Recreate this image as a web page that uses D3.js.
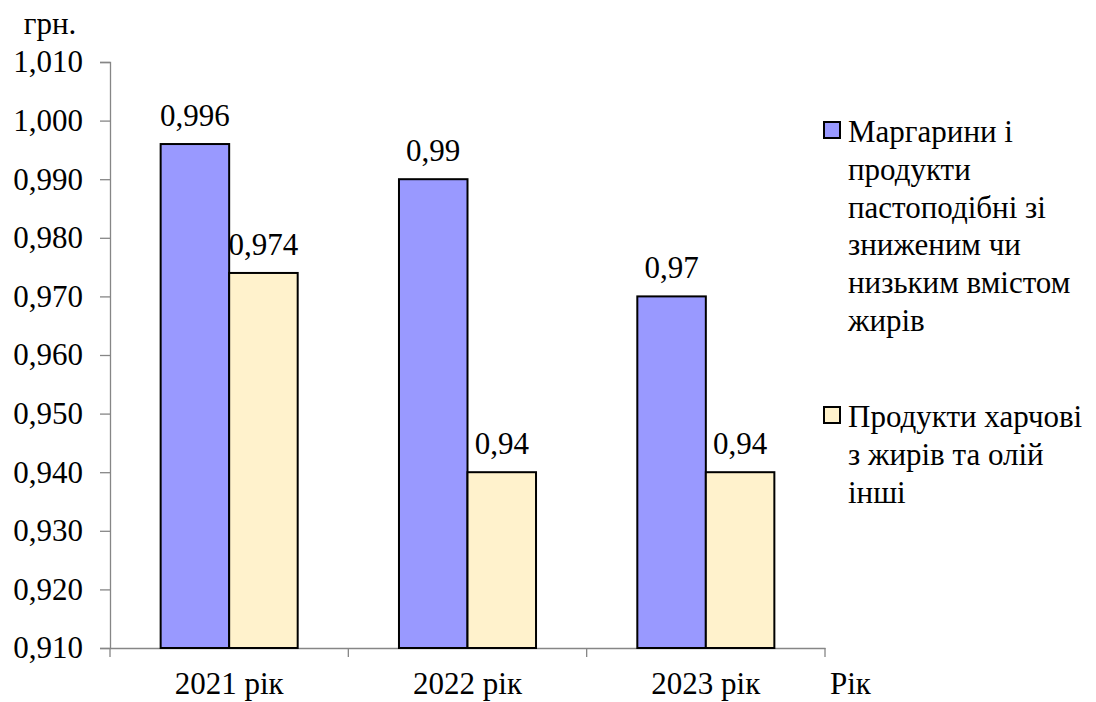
<!DOCTYPE html>
<html>
<head>
<meta charset="utf-8">
<script src="https://cdn.jsdelivr.net/npm/d3@7"></script>
</head>
<body style="margin:0">
<script>
// Average price per unit, UAH
const years = ["2021 рік", "2022 рік", "2023 рік"];
const seriesNames = [
  "Маргарини і продукти пастоподібні зі зниженим чи низьким вмістом жирів",
  "Продукти харчові з жирів та олій інші"
];
const margarineValues = [0.996, 0.99, 0.97];
const otherFatsValues = [0.974, 0.94, 0.94];
const yTicks = [0.91, 0.92, 0.93, 0.94, 0.95, 0.96, 0.97, 0.98, 0.99, 1.00, 1.01];
const legendLines = [
  ["Маргарини і", "продукти", "пастоподібні зі", "зниженим чи", "низьким вмістом", "жирів"],
  ["Продукти харчові", "з жирів та олій", "інші"]
];
const colors = ["#9999FF", "#FFF2CC"];

const fontSize = 31;
const axisColor = "#868686";
const svg = d3.select("body").append("svg")
  .attr("width", 1096).attr("height", 702)
  .attr("class", "price-bars");

// serif face for every label
function useSerif(sel) {
  sel.attr("font-size", fontSize)
    .attr("fill", "#000")
    .attr("font-family", "Liberation Serif")
    .style("font-family", `"Liberation Serif", "Times New Roman"`, "important");
}

const plot = { left: 110, right: 825, top: 62, bottom: 648 };

const y = d3.scaleLinear().domain([0.91, 1.01]).range([plot.bottom, plot.top]);
const x0 = d3.scaleBand().domain(years).range([plot.left, plot.right]).padding(0);
const bw = x0.bandwidth();
const x1 = d3.scaleBand().domain([0, 1]).range([bw * 0.2125, bw * 0.7875]).padding(0);

const rows = years.map((yr, i) => ({ year: yr, vals: [margarineValues[i], otherFatsValues[i]] }));

const fmt = v => String(+v.toFixed(3)).replace(".", ",");
const tickFmt = v => v.toFixed(3).replace(".", ",");

// Y axis
const yAxis = svg.append("g")
  .attr("transform", `translate(${plot.left},0)`)
  .call(d3.axisLeft(y).tickValues(yTicks).tickFormat(tickFmt).tickSize(10).tickPadding(17));
yAxis.attr("font-family", null).attr("font-size", null);
yAxis.select(".domain").attr("stroke", axisColor).attr("stroke-width", 1.3);
yAxis.selectAll(".tick line").attr("stroke", axisColor).attr("stroke-width", 1.3);
yAxis.selectAll(".tick text").call(useSerif);

// X axis line
const xAxis = svg.append("g")
  .attr("transform", `translate(0,${plot.bottom})`)
  .call(d3.axisBottom(x0).tickValues([]).tickSizeOuter(0));
xAxis.attr("font-family", null).attr("font-size", null);
xAxis.select(".domain").attr("stroke", axisColor).attr("stroke-width", 1.3);
// category boundary ticks
svg.append("g").selectAll("line")
  .data(years.concat(["end"]))
  .join("line")
  .attr("x1", (d, i) => i < years.length ? x0(d) : plot.right)
  .attr("x2", (d, i) => i < years.length ? x0(d) : plot.right)
  .attr("y1", plot.bottom).attr("y2", plot.bottom + 9)
  .attr("stroke", axisColor).attr("stroke-width", 1.3);
svg.append("g").selectAll("text")
  .data(years)
  .join("text")
  .attr("x", d => x0(d) + bw / 2)
  .attr("y", 694)
  .attr("text-anchor", "middle")
  .call(useSerif)
  .text(d => d);

// Bars
const groups = svg.append("g").selectAll("g")
  .data(rows)
  .join("g")
  .attr("transform", d => `translate(${x0(d.year)},0)`);

groups.selectAll("rect")
  .data(d => d.vals.map((v, k) => ({ v, k })))
  .join("rect")
  .attr("x", d => x1(d.k))
  .attr("width", x1.bandwidth())
  .attr("y", d => y(d.v))
  .attr("height", d => y(0.91) - y(d.v))
  .attr("fill", d => colors[d.k])
  .attr("stroke", "#000")
  .attr("stroke-width", 2);

groups.selectAll("text")
  .data(d => d.vals.map((v, k) => ({ v, k })))
  .join("text")
  .attr("x", d => x1(d.k) + x1.bandwidth() / 2)
  .attr("y", d => y(d.v) - 18)
  .attr("text-anchor", "middle")
  .call(useSerif)
  .text(d => fmt(d.v));

// Axis titles
svg.append("text").attr("x", 50).attr("y", 34).attr("text-anchor", "middle")
  .call(useSerif).text("грн.");
svg.append("text").attr("x", 830).attr("y", 694)
  .call(useSerif).text("Рік");

// Legend
const legendTops = [142, 427];
const lineStep = 37.8;
seriesNames.forEach((name, k) => {
  const g = svg.append("g").attr("class", "legend-item").attr("aria-label", name);
  g.append("rect")
    .attr("x", 824).attr("y", legendTops[k] - 20)
    .attr("width", 16).attr("height", 16)
    .attr("fill", colors[k]).attr("stroke", "#000").attr("stroke-width", 2);
  const t = g.append("text").call(useSerif);
  legendLines[k].forEach((ln, j) => {
    t.append("tspan").attr("x", 848).attr("y", legendTops[k] + j * lineStep).text(ln);
  });
});
</script>
</body>
</html>
